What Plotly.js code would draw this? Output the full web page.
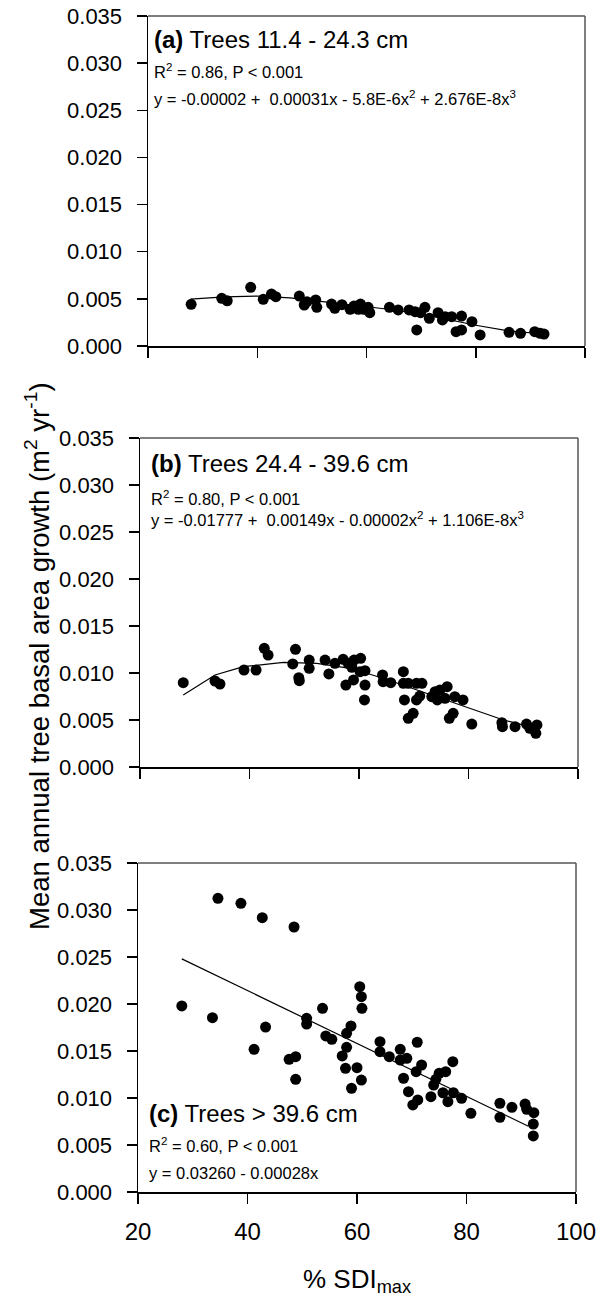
<!DOCTYPE html>
<html>
<head>
<meta charset="utf-8">
<script src="https://cdn.plot.ly/plotly-3.0.1.min.js"></script>
<style>html,body{margin:0;padding:0;background:#fff;}#chart{width:600px;height:1300px;}</style>
</head>
<body>
<div id="chart"></div>
<script>
// ---------- data ----------
const aX = [27.9,33.5,34.5,38.8,41.1,42.6,43.4,47.7,48.6,49.1,50.7,50.9,53.6,54.2,55.5,57.0,57.7,58.5,58.9,59.5,60.6,60.3,64.2,65.8,67.8,68.9,69.2,69.9,70.7,71.5,73.1,73.9,74.4,75.6,76.4,77.4,77.4,79.3,80.8,86.1,88.2,90.8,91.8,92.5];
const aY = [0.00442,0.00506,0.0048,0.00622,0.00495,0.00551,0.00523,0.0053,0.00435,0.0047,0.00488,0.0041,0.00445,0.0040,0.00438,0.00389,0.00424,0.00389,0.00445,0.00389,0.00353,0.0041,0.0041,0.00382,0.00382,0.00364,0.0017,0.00353,0.0041,0.00293,0.00353,0.00276,0.00311,0.00311,0.00152,0.0017,0.00318,0.00258,0.00117,0.00145,0.00135,0.00152,0.00135,0.00127];
const aLineX = [27.8,34,40,46,52,58,64,70,76,80,86,92];
const aLineY = [0.00498,0.0052,0.0053,0.0051,0.0047,0.0043,0.0039,0.0034,0.0027,0.0022,0.0016,0.0013];

const bX = [27.9,33.7,34.6,39.0,41.2,42.7,43.4,47.9,48.4,49.0,49.1,50.9,50.9,53.8,54.5,55.6,57.1,57.6,58.0,58.7,59.1,59.0,60.3,60.2,61.1,61.1,61.0,64.3,64.4,65.8,68.1,68.1,68.3,69.0,69.9,69.0,70.5,70.5,71.5,71.1,73.3,73.9,74.3,74.8,75.7,76.1,76.5,77.2,77.5,79.0,80.6,86.1,86.2,88.5,90.6,91.2,92.5,92.3];
const bY = [0.00897,0.00915,0.00883,0.01032,0.01032,0.01262,0.01191,0.01096,0.01252,0.0095,0.00918,0.01138,0.0105,0.01138,0.0099,0.01103,0.01146,0.00872,0.01103,0.01061,0.01138,0.00926,0.01156,0.01014,0.01025,0.00872,0.00713,0.00979,0.00908,0.00897,0.01014,0.0089,0.00713,0.00518,0.00571,0.0089,0.0089,0.00713,0.0089,0.00755,0.00748,0.00801,0.00713,0.00819,0.00731,0.00854,0.00518,0.00571,0.00748,0.00713,0.00457,0.00471,0.00429,0.00429,0.00457,0.00411,0.00447,0.00358];
const bLineX = [27.9,33.7,38.9,46.2,52.3,58.4,64.4,70.5,76.6,82.7,86.4,91.2];
const bLineY = [0.00766,0.00979,0.01067,0.01113,0.01103,0.0105,0.00944,0.00819,0.00695,0.00571,0.0050,0.00429];

const cX = [34.6,38.8,42.7,48.5,28.0,33.6,43.3,41.2,47.6,48.8,48.8,50.8,50.8,53.7,54.3,55.4,58.1,58.9,58.1,57.3,57.9,59.0,60.0,60.8,60.5,60.8,60.9,64.2,64.2,65.9,67.9,67.9,69.1,71.0,68.5,69.4,70.2,71.1,70.8,71.8,73.5,74.0,74.4,75.0,76.2,75.7,76.6,77.5,77.6,79.1,80.8,86.1,86.1,88.3,90.7,91.0,92.3,92.2,92.2];
const cY = [0.03124,0.03071,0.02918,0.02819,0.01979,0.01855,0.01755,0.01518,0.01411,0.0144,0.01199,0.01848,0.01787,0.01954,0.0166,0.01624,0.01688,0.01766,0.01539,0.01447,0.01316,0.01103,0.01322,0.01191,0.02184,0.02078,0.01954,0.01599,0.01493,0.0144,0.01518,0.01404,0.01422,0.01593,0.0121,0.01067,0.00926,0.00979,0.0128,0.01351,0.01014,0.01138,0.01199,0.01263,0.0128,0.01056,0.00961,0.01386,0.01056,0.00997,0.00837,0.00944,0.00795,0.00901,0.00936,0.0088,0.00844,0.00723,0.00596];
const cLineX = [28.0,91.3];
const cLineY = [0.0248,0.0070];

const xTickVals = [20,40,60,80,100];
const xTickText = ['20','40','60','80','100'];
const yTickVals = [0,0.005,0.010,0.015,0.020,0.025,0.030,0.035];
const yTickText = ['0.000','0.005','0.010','0.015','0.020','0.025','0.030','0.035'];

const panelTitles = ['<b>(a)</b> Trees 11.4 - 24.3 cm','<b>(b)</b> Trees 24.4 - 39.6 cm','<b>(c)</b> Trees &gt; 39.6 cm'];
const panelStats = ['R<sup>2</sup> = 0.86, P &lt; 0.001','R<sup>2</sup> = 0.80, P &lt; 0.001','R<sup>2</sup> = 0.60, P &lt; 0.001'];
const panelEqs = ['y = -0.00002 +  0.00031x - 5.8E-6x<sup>2</sup> + 2.676E-8x<sup>3</sup>',
                  'y = -0.01777 +  0.00149x - 0.00002x<sup>2</sup> + 1.106E-8x<sup>3</sup>',
                  'y = 0.03260 - 0.00028x'];
const yTitle = 'Mean annual tree basal area growth (m<sup>2</sup> yr<sup>-1</sup>)';
const xTitle = '% SDI<sub>max</sub>';

// ---------- layout helpers (pixel geometry) ----------
const W = 600, H = 1300;
const FONT = 'Liberation Sans, Arial, sans-serif';
const px = v => v / W;
const py = v => 1 - v / H;
// [left, right, top, bottom] in pixels
const boxes = [[148,585,16,346],[140,578,438,767],[138,576,863,1192]];

const sets = [[aX,aY,aLineX,aLineY],[bX,bY,bLineX,bLineY],[cX,cY,cLineX,cLineY]];
const traces = [];
const layout = {
  width: W, height: H,
  margin: {l:0,r:0,t:0,b:0},
  paper_bgcolor: '#fff', plot_bgcolor: '#fff',
  showlegend: false,
  font: {family: FONT, color: '#000'},
  annotations: [], shapes: []
};

sets.forEach((s, i) => {
  const n = i === 0 ? '' : String(i + 1);
  const xa = 'x' + n, ya = 'y' + n;
  traces.push({x: s[2], y: s[3], xaxis: xa, yaxis: ya, type: 'scatter', mode: 'lines',
               line: {color: '#000', width: 1.2}, hoverinfo: 'skip'});
  traces.push({x: s[0], y: s[1], xaxis: xa, yaxis: ya, type: 'scatter', mode: 'markers',
               marker: {color: '#000', size: 11}, cliponaxis: false});
  const b = boxes[i];
  layout['xaxis' + n] = {
    domain: [px(b[0]), px(b[1])], anchor: ya, range: [20, 100],
    tickvals: xTickVals, ticktext: xTickText, showticklabels: i === 2,
    ticks: 'outside', ticklen: 10, tickwidth: 1.5, tickcolor: '#000',
    ticklabelstandoff: 8,
    showline: true, linecolor: '#000', linewidth: 1.5,
    showgrid: false, zeroline: false,
    tickfont: {family: FONT, size: 24, color: '#000'}
  };
  layout['yaxis' + n] = {
    domain: [py(b[3]), py(b[2])], anchor: xa, range: [0, 0.035],
    tickvals: yTickVals, ticktext: yTickText,
    ticks: 'outside', ticklen: 10, tickwidth: 1.5, tickcolor: '#000',
    ticklabelstandoff: 10,
    showline: true, linecolor: '#000', linewidth: 1.5,
    showgrid: false, zeroline: false,
    tickfont: {family: FONT, size: 22, color: '#000'}
  };
  // top and right frame lines
  layout.shapes.push({type:'line', xref:'paper', yref:'paper', x0:px(b[0]), x1:px(b[1]), y0:py(b[2]), y1:py(b[2]), line:{color:'#555', width:1.5}});
  layout.shapes.push({type:'line', xref:'paper', yref:'paper', x0:px(b[1]), x1:px(b[1]), y0:py(b[3]), y1:py(b[2]), line:{color:'#555', width:1.5}});
});

// panel texts: [x start, title y, stats y, eq y]
const textPos = [[152,39,71,98],[149,463,498,519],[147,1113,1145,1173]];
textPos.forEach((t, i) => {
  layout.annotations.push({xref:'paper', yref:'paper', x:px(t[0]), y:py(t[1]), xanchor:'left', yanchor:'middle',
    text: panelTitles[i], showarrow:false, font:{family:FONT, size:24, color:'#000'}});
  layout.annotations.push({xref:'paper', yref:'paper', x:px(t[0]), y:py(t[2]), xanchor:'left', yanchor:'middle',
    text: panelStats[i], showarrow:false, font:{family:FONT, size:16.5, color:'#000'}});
  layout.annotations.push({xref:'paper', yref:'paper', x:px(t[0]), y:py(t[3]), xanchor:'left', yanchor:'middle',
    text: panelEqs[i], showarrow:false, font:{family:FONT, size:16.5, color:'#000'}});
});

layout.annotations.push({xref:'paper', yref:'paper', x:px(37), y:py(656), xanchor:'center', yanchor:'middle',
  textangle:-90, text: yTitle, showarrow:false, font:{family:FONT, size:27.5, color:'#000'}});
layout.annotations.push({xref:'paper', yref:'paper', x:px(357), y:py(1280), xanchor:'center', yanchor:'middle',
  text: xTitle, showarrow:false, font:{family:FONT, size:26, color:'#000'}});

Plotly.newPlot('chart', traces, layout, {staticPlot: true, displayModeBar: false});
</script>
</body>
</html>
